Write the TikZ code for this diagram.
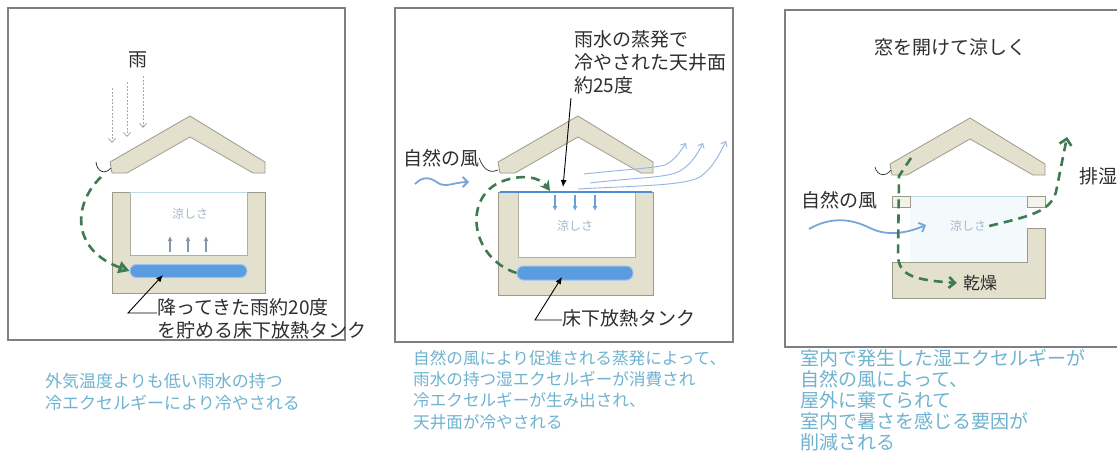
\documentclass[tikz,border=0pt]{standalone}
\usepackage{fontspec}
\newfontfamily\jpfont{Noto Sans CJK JP}
\usetikzlibrary{arrows.meta}

\definecolor{wallbeige}{HTML}{E3E1CE}
\definecolor{wallline}{HTML}{9C9A88}
\definecolor{framegray}{HTML}{808080}
\definecolor{tankblue}{HTML}{5B9BDF}
\definecolor{dgreen}{HTML}{3E7A52}
\definecolor{lgreen}{HTML}{5EC14A}
\definecolor{windblue}{HTML}{78A6DA}
\definecolor{ceilblue}{HTML}{4A8ED8}
\definecolor{flowblue}{HTML}{93B5E2}
\definecolor{captxt}{HTML}{6FB3D0}
\definecolor{coolgray}{HTML}{A3B8CC}
\definecolor{upgray}{HTML}{8797AB}
\definecolor{raingray}{HTML}{A8A8A8}
\definecolor{ceillight}{HTML}{BFDCEC}
\definecolor{txt}{HTML}{2E2E2E}

\tikzset{
  frame/.style={draw=framegray, line width=1.1pt},
  wall/.style={fill=wallbeige, draw=wallline, line width=0.8pt},
  interior/.style={fill=white, draw=wallline!80, line width=0.6pt},
  tank/.style={fill=tankblue, draw=tankblue!60, line width=1pt, rounded corners=6.5pt, inner sep=0pt},
  greendash/.style={draw=dgreen, line width=2.6pt, dash pattern=on 9pt off 6pt},
  rainarrow/.style={draw=raingray, line width=0.8pt, dash pattern=on 2pt off 1.5pt, -{Straight Barb[length=4pt,width=7pt]}},
  windarrow/.style={draw=windblue, line width=1.8pt, -{Straight Barb[length=5pt,width=10pt]}},
  flowline/.style={draw=flowblue, line width=0.9pt, -{Straight Barb[length=4pt,width=7pt]}},
  leader/.style={draw=black, line width=0.9pt, -{Latex[length=7pt,width=6pt]}},
  curl/.style={draw=txt, line width=0.7pt},
  lbl/.style={font=\jpfont\fontsize{19}{23}\selectfont, text=txt, inner sep=0pt, align=left},
  captext/.style={text=captxt, inner sep=0pt, align=left, anchor=west},
  cool/.style={font=\jpfont\fontsize{12}{14}\selectfont, text=coolgray, inner sep=0pt},
  roof/.pic={
    \path[wall] (-80,46) -- (0,0) -- (75,46) -- (75,57) -- (63,57) -- (0,21) -- (-63,57) -- (-78,57) -- cycle;
  }
}

\begin{document}
\begin{tikzpicture}[x=1pt,y=-1pt]
\fill[white] (0,0) rectangle (1117,471);
\useasboundingbox (0,0) rectangle (1117,471);

% ---------------- panel 1: rain stored under the floor ----------------
\draw[frame] (8,8) rectangle (345,340);
\pic at (190,116) {roof};
\path[wall] (112,192) -- (130,192) -- (130,255) -- (247,255) -- (247,192) -- (265,192) -- (265,293) -- (112,293) -- cycle;
\draw[interior] (130,192) rectangle (247,255);
\draw[ceillight, line width=1pt] (130,192) -- (247,192);
\node[tank, minimum width=117pt, minimum height=13pt] (tank1) at (188.5,271) {};

\node[cool] (cool1) at (190,214) {涼しさ};
\foreach \x in {170,188,206}
  \draw[upgray, line width=1.6pt, -{Latex[length=5pt,width=5pt]}] (\x,252) -- (\x,236);

\node[lbl] (rain) at (138,60) {雨};
\coordinate (r1) at (112,88);  \coordinate (r1e) at (112,143);
\coordinate (r2) at (127,82);  \coordinate (r2e) at (127,137);
\coordinate (r3) at (143,76);  \coordinate (r3e) at (143,128);
\draw[rainarrow] (r1) -- (r1e);
\draw[rainarrow] (r2) -- (r2e);
\draw[rainarrow] (r3) -- (r3e);

\draw[curl] (96,162) .. controls (97,172) and (105,175) .. (111,168);
\coordinate (g1s) at (101,177);
\draw[greendash, -{Triangle[length=11pt,width=12pt,color=dgreen,fill=lgreen]}]
  (g1s) .. controls (72,205) and (72,250) .. (tank1.west);

\node[lbl, anchor=west] (lab1) at (157,319) {降ってきた雨約20度\\を貯める床下放熱タンク};
\coordinate (k1) at (128,313);
\coordinate (t1) at (163,275);
\draw[leader] ([yshift=6pt]lab1.west) -- (k1) -- (t1);

\node[captext, font=\jpfont\fontsize{17}{22}\selectfont] (cap1)
  at (45,392) {外気温度よりも低い雨水の持つ\\冷エクセルギーにより冷やされる};

% ---------------- panel 2: evaporation cools the ceiling ----------------
\draw[frame] (395,8) rectangle (733,342);
\pic at (578,116) {roof};
\path[wall] (498,192) -- (518,192) -- (518,257) -- (635,257) -- (635,192) -- (653,192) -- (653,295) -- (498,295) -- cycle;
\draw[interior] (518,192) rectangle (635,257);
\draw[ceilblue, line width=1.6pt] (500,192) -- (652,192);
\node[tank, minimum width=116pt, minimum height=14pt] (tank2) at (575,273) {};

\foreach \x in {555,575,595}
  \draw[ceilblue!85, line width=1.5pt, -{Latex[length=5pt,width=5pt]}] (\x,195) -- (\x,211);
\node[cool] (cool2) at (575,226) {涼しさ};

\draw[flowline] (584,174) .. controls (620,170) and (655,168) .. (665,165) .. controls (675,160) and (680,152) .. (686,143);
\draw[flowline] (590,183) .. controls (630,178) and (665,178) .. (678,172) .. controls (690,166) and (697,155) .. (703,143);
\draw[flowline] (578,189) .. controls (630,186) and (680,186) .. (698,178) .. controls (712,170) and (719,155) .. (726,141);

\node[lbl, anchor=north west] (note2) at (574,30) {雨水の蒸発で\\冷やされた天井面\\約25度};
\coordinate (n2) at (571,98);
\coordinate (c2) at (563,187);
\draw[leader] (n2) -- (c2);

\node[lbl] (wind2) at (441,158) {自然の風};
\draw[curl] (wind2.east) .. controls (484,172) and (492,173) .. (498,170);
\coordinate (w2s) at (415,184);
\coordinate (w2e) at (469,182);
\draw[windarrow] (w2s) .. controls (423,176) and (430,177) .. (438,183) .. controls (446,188) and (455,182) .. (w2e);

\coordinate (g2e) at (550,191);
\draw[greendash, -{Stealth[length=10pt,width=11pt]}]
  (tank2.west) .. controls (470,258) and (462,196) .. (503,181) .. controls (522,174) and (540,177) .. (g2e);

\node[lbl, anchor=west] (lab2) at (562,318) {床下放熱タンク};
\coordinate (k2) at (535,320);
\coordinate (t2) at (562,277);
\draw[leader] ([yshift=-2pt]lab2.west) -- (k2) -- (t2);

\node[captext, font=\jpfont\fontsize{16.6}{21.3}\selectfont] (cap2)
  at (413,390) {自然の風により促進される蒸発によって、\\雨水の持つ湿エクセルギーが消費され\\冷エクセルギーが生み出され、\\天井面が冷やされる};

% ---------------- panel 3: open windows ----------------
\draw[frame] (1118,10) -- (785,10) -- (785,347) -- (1118,347);
\node[lbl] (title3) at (950,47) {窓を開けて涼しく};
\pic at (970,118) {roof};
\fill[ceillight!18] (910,197) rectangle (1027,262);
\path[wall] (892,262) -- (1027,262) -- (1027,228) -- (1045,228) -- (1045,298) -- (892,298) -- cycle;
\draw[ceillight, line width=1pt] (892,196) -- (1045,196);
\draw[wall, fill=wallbeige!40] (892,196) rectangle (910,207);
\draw[wall, fill=wallbeige!40] (1027,196) rectangle (1045,207);

\node[lbl] (wind3) at (839,200) {自然の風};
\draw[curl] (875,167) .. controls (877,176) and (886,177) .. (891,170);
\coordinate (w3s) at (809,229);
\coordinate (w3e) at (926,225);
\draw[windarrow] (w3s) .. controls (830,217) and (850,218) .. (870,228) .. controls (886,236) and (905,234) .. (w3e);
\node[cool] (cool3) at (968,226) {涼しさ};

\coordinate (g3s) at (911,158);
\node[lbl, font=\jpfont\fontsize{17}{20}\selectfont] (dry) at (980,283) {乾燥};
\draw[greendash, -{Straight Barb[length=6pt,width=11pt]}]
  (g3s) -- (899,176) -- (898,256) .. controls (899,276) and (915,280) .. ([xshift=-6pt]dry.west);

\node[lbl] (exh) at (1098,176) {排湿};
\coordinate (g4e) at (1067,137);
\draw[greendash, -{Straight Barb[length=6pt,width=12pt]}]
  ([xshift=3pt]cool3.east) .. controls (1030,216) and (1050,212) .. (1056,192) -- (g4e);

\node[captext, font=\jpfont\fontsize{19}{21}\selectfont] (cap3)
  at (800,400) {室内で発生した湿エクセルギーが\\自然の風によって、\\屋外に棄てられて\\室内で暑さを感じる要因が\\削減される};
\end{tikzpicture}
\end{document}
